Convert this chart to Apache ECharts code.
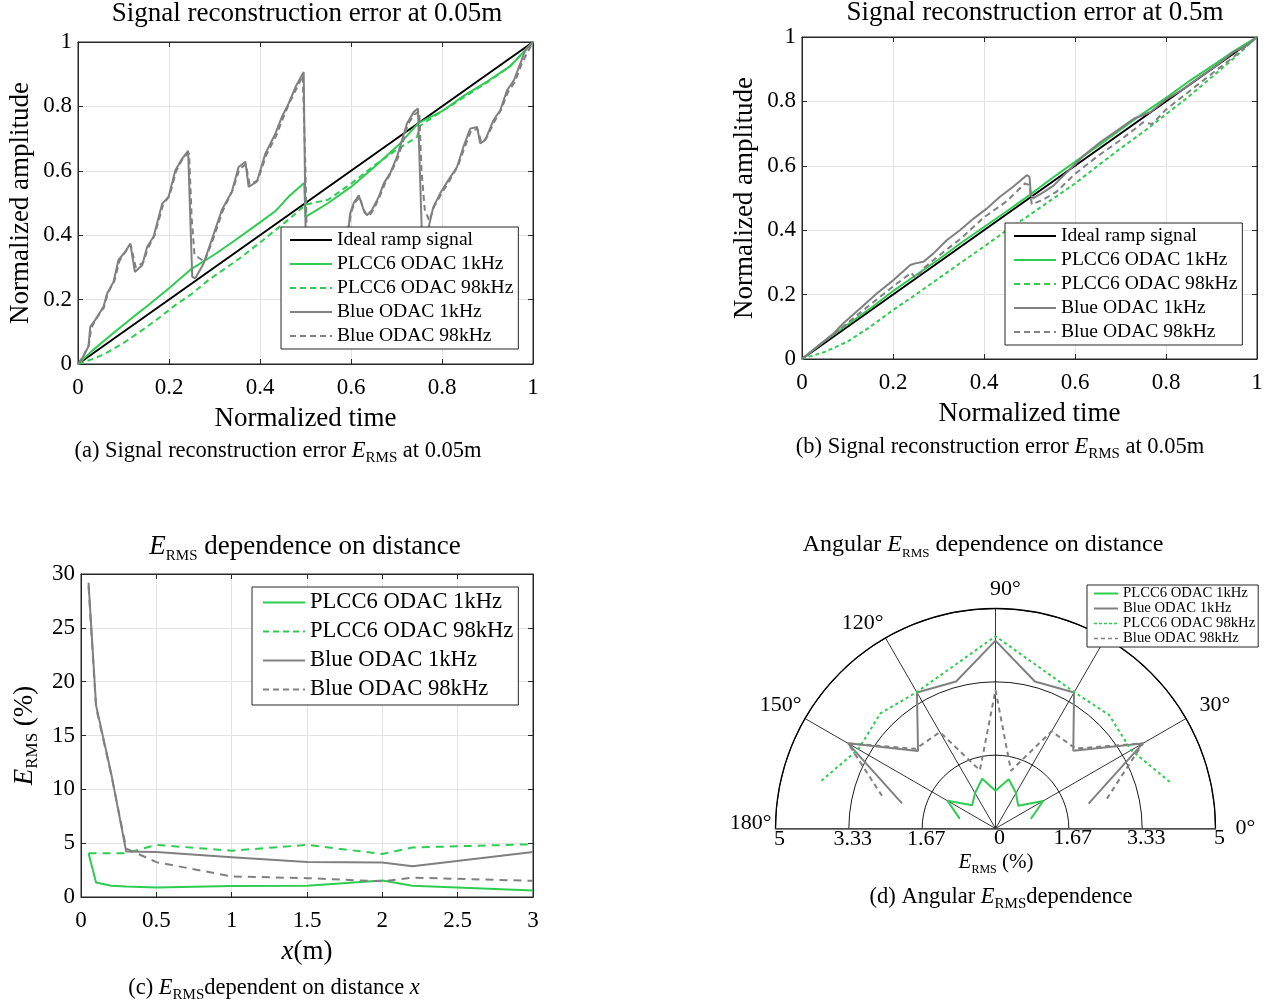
<!DOCTYPE html>
<html><head><meta charset="utf-8">
<script src="https://cdn.jsdelivr.net/npm/echarts@6/dist/echarts.min.js"></script>
<style>html,body{margin:0;padding:0;background:#fff}#c{width:1272px;height:1007px}</style>
</head><body><div id="c"></div>
<script>
// ---------- Panel (a): ramp at 0.05 m, [normalized time, normalized amplitude]
const aIdeal = [[0,0],[1,1]];
const aPlcc1k = [[0,0],[0.03,0.04],[0.06,0.075],[0.09,0.11],[0.122,0.147],[0.155,0.183],[0.2,0.235],[0.247,0.293],[0.3,0.34],[0.346,0.385],[0.4,0.44],[0.434,0.475],[0.463,0.52],[0.497,0.562],[0.5,0.457],[0.55,0.5],[0.6,0.55],[0.65,0.61],[0.708,0.685],[0.748,0.748],[0.8,0.785],[0.85,0.835],[0.9,0.878],[0.95,0.925],[1,1]];
const aPlcc98k = [[0,0],[0.038,0.018],[0.067,0.038],[0.104,0.069],[0.141,0.105],[0.177,0.142],[0.214,0.183],[0.251,0.219],[0.287,0.261],[0.324,0.297],[0.36,0.333],[0.397,0.374],[0.434,0.416],[0.47,0.457],[0.5,0.495],[0.55,0.51],[0.6,0.56],[0.65,0.615],[0.7,0.665],[0.745,0.705],[0.752,0.74],[0.8,0.785],[0.85,0.83],[0.9,0.875],[0.95,0.925],[1,1]];
const aBlue1k = [[0,0],[0.01,0.02],[0.023,0.054],[0.027,0.116],[0.038,0.137],[0.056,0.178],[0.064,0.219],[0.078,0.255],[0.089,0.323],[0.104,0.349],[0.115,0.374],[0.125,0.286],[0.141,0.307],[0.152,0.364],[0.166,0.395],[0.185,0.498],[0.199,0.519],[0.214,0.602],[0.229,0.638],[0.242,0.662],[0.251,0.271],[0.258,0.266],[0.276,0.312],[0.295,0.39],[0.316,0.478],[0.338,0.535],[0.353,0.612],[0.368,0.628],[0.375,0.55],[0.393,0.566],[0.412,0.654],[0.434,0.716],[0.448,0.767],[0.463,0.809],[0.478,0.86],[0.496,0.907],[0.502,0.2],[0.53,0.28],[0.56,0.35],[0.595,0.426],[0.598,0.467],[0.606,0.5],[0.617,0.524],[0.628,0.478],[0.635,0.462],[0.646,0.478],[0.661,0.519],[0.672,0.561],[0.686,0.592],[0.701,0.643],[0.712,0.695],[0.723,0.747],[0.738,0.783],[0.747,0.793],[0.757,0.35],[0.765,0.38],[0.771,0.426],[0.781,0.488],[0.796,0.53],[0.814,0.571],[0.833,0.612],[0.847,0.674],[0.862,0.731],[0.877,0.736],[0.884,0.685],[0.895,0.695],[0.913,0.757],[0.928,0.788],[0.943,0.85],[0.958,0.881],[0.972,0.933],[0.983,0.974],[1,1]];
const aBlue98k = [[0,0],[0.012,0.025],[0.024,0.06],[0.029,0.112],[0.04,0.14],[0.057,0.176],[0.066,0.222],[0.08,0.258],[0.091,0.32],[0.106,0.352],[0.116,0.37],[0.127,0.3],[0.143,0.315],[0.154,0.36],[0.168,0.398],[0.187,0.495],[0.201,0.522],[0.216,0.6],[0.231,0.64],[0.244,0.655],[0.25,0.45],[0.256,0.34],[0.265,0.33],[0.278,0.318],[0.297,0.388],[0.318,0.475],[0.34,0.54],[0.355,0.606],[0.369,0.62],[0.377,0.558],[0.395,0.57],[0.414,0.65],[0.436,0.71],[0.45,0.762],[0.465,0.812],[0.48,0.855],[0.494,0.895],[0.5,0.6],[0.505,0.22],[0.53,0.29],[0.56,0.36],[0.596,0.43],[0.6,0.47],[0.608,0.5],[0.619,0.518],[0.63,0.47],[0.64,0.46],[0.65,0.48],[0.663,0.52],[0.674,0.558],[0.688,0.595],[0.703,0.64],[0.714,0.69],[0.725,0.745],[0.74,0.775],[0.75,0.785],[0.755,0.6],[0.762,0.48],[0.772,0.445],[0.783,0.49],[0.798,0.527],[0.816,0.568],[0.835,0.615],[0.849,0.67],[0.864,0.725],[0.878,0.73],[0.886,0.69],[0.897,0.7],[0.915,0.752],[0.93,0.79],[0.945,0.845],[0.96,0.875],[0.974,0.928],[0.985,0.96],[1,1]];

// ---------- Panel (b): ramp at 0.5 m
const bIdeal = [[0,0],[1,1]];
const bPlcc1k = [[0,0],[0.05,0.056],[0.1,0.107],[0.15,0.157],[0.2,0.211],[0.25,0.26],[0.3,0.309],[0.35,0.361],[0.4,0.41],[0.45,0.459],[0.5,0.509],[0.55,0.562],[0.6,0.612],[0.65,0.661],[0.7,0.712],[0.75,0.763],[0.8,0.811],[0.85,0.862],[0.9,0.909],[0.95,0.957],[1,1]];
const bPlcc98k = [[0,0],[0.05,0.022],[0.1,0.054],[0.15,0.1],[0.2,0.152],[0.25,0.2],[0.3,0.25],[0.35,0.3],[0.4,0.349],[0.45,0.4],[0.5,0.447],[0.55,0.496],[0.6,0.545],[0.65,0.6],[0.7,0.654],[0.75,0.705],[0.8,0.76],[0.85,0.815],[0.9,0.875],[0.95,0.935],[1,1]];
const bBlue1k = [[0,0],[0.03,0.035],[0.07,0.08],[0.091,0.111],[0.132,0.162],[0.165,0.204],[0.201,0.245],[0.238,0.292],[0.249,0.297],[0.267,0.302],[0.289,0.328],[0.318,0.369],[0.347,0.4],[0.377,0.436],[0.406,0.467],[0.435,0.504],[0.464,0.535],[0.494,0.571],[0.5,0.566],[0.503,0.51],[0.508,0.499],[0.532,0.519],[0.554,0.54],[0.583,0.581],[0.62,0.633],[0.656,0.674],[0.693,0.71],[0.729,0.746],[0.766,0.767],[0.802,0.808],[0.839,0.839],[0.875,0.876],[0.912,0.912],[0.948,0.953],[0.978,0.974],[1,1]];
const bBlue98k = [[0,0],[0.04,0.045],[0.08,0.088],[0.12,0.135],[0.16,0.18],[0.2,0.225],[0.24,0.268],[0.25,0.25],[0.27,0.285],[0.3,0.32],[0.35,0.375],[0.4,0.44],[0.45,0.49],[0.49,0.545],[0.5,0.54],[0.505,0.48],[0.53,0.495],[0.56,0.52],[0.6,0.575],[0.65,0.63],[0.7,0.68],[0.75,0.735],[0.77,0.73],[0.8,0.775],[0.85,0.83],[0.9,0.885],[0.95,0.94],[1,1]];

// ---------- Panel (c): E_RMS (%) vs distance x (m)
const cX = [0.05, 0.1, 0.2, 0.3, 0.5, 1.0, 1.5, 2.0, 2.2, 3.0];
const cPlcc1k  = [4.07, 1.35, 1.05, 0.98, 0.89, 1.02, 1.05, 1.54, 1.05, 0.61];
const cPlcc98k = [4.07, 4.07, 4.07, 4.07, 4.84, 4.3, 4.84, 4.0, 4.6, 4.9];
const cBlue1k  = [29.2, 17.8, 11.5, 4.22, 4.17, 3.7, 3.24, 3.2, 2.85, 4.17];
const cBlue98k = [28.9, 17.6, 11.4, 4.5, 3.24, 1.91, 1.75, 1.45, 1.8, 1.5];

// ---------- Panel (d): angular E_RMS (%)
const dAngles   = [15, 30, 45, 60, 75, 90, 105, 120, 135, 150, 165];
const dPlcc1k   = [0.83, 1.25, 0.73, 0.93, 1.16, 0.86, 1.17, 0.93, 0.75, 1.26, 0.84];
const dBlue1k   = [2.19, 3.86, 2.50, 3.57, 3.46, 4.27, 3.46, 3.57, 2.49, 3.87, 2.20];
const dPlcc98k  = [4.10, 3.56, 3.65, 3.58, 3.80, 4.37, 3.80, 3.58, 3.70, 3.60, 4.12];
const dBlue98k  = [2.62, 3.87, 2.57, 2.55, 1.36, 3.15, 1.37, 2.53, 2.56, 3.87, 2.63];

const F = '"Liberation Serif","Times New Roman",serif';
const GREEN = '#2fcc52', GRAY = '#808080', BLACK = '#000', AX = '#262626';
const N = ['Ideal ramp signal','PLCC6 ODAC 1kHz','PLCC6 ODAC 98kHz','Blue ODAC 1kHz','Blue ODAC 98kHz'];

const chart = echarts.init(document.getElementById('c'), null, {renderer:'canvas'});

function zipC(ys){ return cX.map((x,i)=>[x, ys[i]]); }
function zipD(rs){ return dAngles.map((a,i)=>[rs[i], a]); }

function ls(name, data, idx, color, type, width){
  return {type:'line', name, data, xAxisIndex:idx, yAxisIndex:idx, symbol:'none', animation:false,
    lineStyle:{color, width, type}, itemStyle:{color}};
}
function ps(name, data, color, type, width){
  return {type:'line', name, data, coordinateSystem:'polar', polarIndex:0, symbol:'none', animation:false,
    lineStyle:{color, width, type}, itemStyle:{color}};
}
const xLabel = {fontFamily:F, fontSize:23, color:'#000', margin:12};
const yLabel = {fontFamily:F, fontSize:23, color:'#000', margin:6};
const gridSplit = {show:true, lineStyle:{color:'#e3e3e3', width:1}};
function mainX(g, min, max, interval, name, gap, extra){
  return Object.assign({gridIndex:g, type:'value', min, max, interval, position:'bottom',
    axisLine:{show:true, onZero:false, lineStyle:{color:AX, width:1}},
    axisTick:{show:true, inside:true, length:5, lineStyle:{color:AX}},
    axisLabel:xLabel, splitLine:gridSplit,
    name, nameLocation:'middle', nameGap:gap, nameTextStyle:{fontFamily:F, fontSize:27, color:'#000'}}, extra||{});
}
function mainY(g, min, max, interval, name, gap, extra){
  return Object.assign({gridIndex:g, type:'value', min, max, interval, position:'left',
    axisLine:{show:true, onZero:false, lineStyle:{color:AX, width:1}},
    axisTick:{show:true, inside:true, length:5, lineStyle:{color:AX}},
    axisLabel:yLabel, splitLine:gridSplit,
    name, nameLocation:'middle', nameGap:gap, nameTextStyle:{fontFamily:F, fontSize:27, color:'#000'}}, extra||{});
}
function mirror(g, min, max, interval, pos){
  return {gridIndex:g, type:'value', min, max, interval, position:pos,
    axisLine:{show:true, onZero:false, lineStyle:{color:AX, width:1}},
    axisTick:{show:true, inside:true, length:5, lineStyle:{color:AX}},
    axisLabel:{show:false}, splitLine:{show:false}};
}
const legendBase = {orient:'vertical', backgroundColor:'#fff', borderColor:AX, borderWidth:1,
  borderRadius:0, selectedMode:false, itemStyle:{opacity:0}, z:20};

const subRich = (size, sub) => ({
  i:{fontFamily:F, fontSize:size, fontStyle:'italic', color:'#000'},
  s:{fontFamily:F, fontSize:sub, color:'#000', verticalAlign:'bottom', lineHeight:sub}
});
function gtext(x, y, text, size, sub, extra){
  return {type:'text', x, y, z:30, style:Object.assign({text, fontFamily:F, fontSize:size, fill:'#000',
    align:'center', verticalAlign:'middle', lineHeight:size+6, rich:subRich(size, sub)}, extra||{})};
}
const rFmt = v => String(Math.round(v*100)/100);
// angle tick label styling (MATLAB places these slightly to the right)
const angRich = {};
[0,30,60,90,120,150,180].forEach(a => {
  const pad = {0:[0,0,0,16], 30:[0,0,0,10], 60:[0,0,0,8], 90:[0,0,4,20], 120:[0,0,0,0], 150:[0,0,0,0], 180:[0,0,10,0]}[a];
  angRich['a'+a] = {fontFamily:F, fontSize:22, color:'#000', padding:pad};
});

const option = {
  backgroundColor:'#fff',
  animation:false,
  grid:[
    {left:78, top:42, width:455, height:322, show:true, borderColor:AX, borderWidth:1},
    {left:802, top:37, width:455, height:322, show:true, borderColor:AX, borderWidth:1},
    {left:81, top:574, width:452, height:323, show:true, borderColor:AX, borderWidth:1}
  ],
  xAxis:[
    mainX(0,0,1,0.2,'Normalized time',41),
    mirror(0,0,1,0.2,'top'),
    mainX(1,0,1,0.2,'Normalized time',41),
    mirror(1,0,1,0.2,'top'),
    mainX(2,0,3,0.5,'{i|x}(m)',41,{nameTextStyle:{fontFamily:F, fontSize:27, color:'#000', rich:{i:{fontFamily:F,fontSize:27,fontStyle:'italic'}}}}),
    mirror(2,0,3,0.5,'top')
  ],
  yAxis:[
    mainY(0,0,1,0.2,'Normalized amplitude',44),
    mirror(0,0,1,0.2,'right'),
    mainY(1,0,1,0.2,'Normalized amplitude',44),
    mirror(1,0,1,0.2,'right'),
    mainY(2,0,30,5,'{i|E}{s|RMS} (%)',40,{nameTextStyle:{fontFamily:F, fontSize:27, color:'#000', lineHeight:32, rich:subRich(27,17)}}),
    mirror(2,0,30,5,'right')
  ],
  polar:[
    {center:[995.5,828.5], radius:220},
    {center:[995.5,828.5], radius:220}
  ],
  angleAxis:[
    {polarIndex:0, type:'value', min:0, max:180, interval:30, startAngle:0, endAngle:180, clockwise:false,
     axisLine:{show:true, lineStyle:{color:'#000', width:1.3}},
     axisTick:{show:false},
     splitLine:{show:true, lineStyle:{color:'#000', width:0.8}},
     axisLabel:{formatter:v=>'{a'+v+'|'+v+'°}', rich:angRich, fontFamily:F, fontSize:22, color:'#000', margin:4}},
    {polarIndex:1, type:'value', min:0, max:180, interval:30, startAngle:180, endAngle:0, clockwise:true,
     axisLine:{show:false}, axisTick:{show:false}, splitLine:{show:false}, axisLabel:{show:false}}
  ],
  radiusAxis:[
    {polarIndex:0, type:'value', min:0, max:5, interval:5/3,
     axisLine:{show:true, lineStyle:{color:'#555', width:1.5}}, axisTick:{show:false},
     splitLine:{show:true, lineStyle:{color:'#000', width:0.9}},
     axisLabel:{formatter:rFmt, fontFamily:F, fontSize:22, color:'#000', margin:-21, padding:[0,0,0,8]}},
    {polarIndex:1, type:'value', min:0, max:5, interval:5/3,
     axisLine:{show:true, lineStyle:{color:'#555', width:1.5}}, axisTick:{show:false},
     splitLine:{show:false},
     axisLabel:{formatter:v=>(v===0?'':rFmt(v)), fontFamily:F, fontSize:22, color:'#000', margin:0, padding:[0,0,0,8]}}
  ],
  legend:[
    Object.assign({}, legendBase, {data:N, left:281, top:227, itemWidth:42, itemHeight:14, itemGap:4,
      padding:[3,5,3,8], textStyle:{fontFamily:F, fontSize:19.6, color:'#000', lineHeight:20}}),
    Object.assign({}, legendBase, {data:N, left:1005, top:223, itemWidth:42, itemHeight:14, itemGap:4,
      padding:[3,5,3,8], textStyle:{fontFamily:F, fontSize:19.6, color:'#000', lineHeight:20}}),
    Object.assign({}, legendBase, {data:N.slice(1), left:252, top:587, itemWidth:42, itemHeight:14, itemGap:6,
      padding:[4,5,4,10], textStyle:{fontFamily:F, fontSize:22.6, color:'#000', lineHeight:23}}),
    Object.assign({}, legendBase, {left:1087, top:585, itemWidth:24, itemHeight:10, itemGap:0,
      padding:[1,3,1,6], textStyle:{fontFamily:F, fontSize:14.7, color:'#000', lineHeight:14},
      data:[{name:'PLCC6 ODAC 1kHz'},{name:'Blue ODAC 1kHz'},
            {name:'PLCC6 ODAC 98kHz', lineStyle:{type:[3,2], width:1.5}},
            {name:'Blue ODAC 98kHz', lineStyle:{type:[4,3], width:1.5}}]})
  ],
  series:[
    ls(N[0], aIdeal, 0, BLACK, 'solid', 2),
    ls(N[1], aPlcc1k, 0, GREEN, 'solid', 2),
    ls(N[2], aPlcc98k, 0, GREEN, [6,4], 2),
    ls(N[3], aBlue1k, 0, GRAY, 'solid', 2),
    ls(N[4], aBlue98k, 0, GRAY, [6,4], 2),

    ls(N[0], bIdeal, 2, BLACK, 'solid', 2),
    ls(N[1], bPlcc1k, 2, GREEN, 'solid', 2),
    ls(N[2], bPlcc98k, 2, GREEN, [4,3], 2),
    ls(N[3], bBlue1k, 2, GRAY, 'solid', 2),
    ls(N[4], bBlue98k, 2, GRAY, [6,4], 2),

    ls(N[1], zipC(cPlcc1k), 4, GREEN, 'solid', 2),
    ls(N[2], zipC(cPlcc98k), 4, GREEN, [8,6], 2),
    ls(N[3], zipC(cBlue1k), 4, GRAY, 'solid', 2),
    ls(N[4], zipC(cBlue98k), 4, GRAY, [8,6], 2),

    ps(N[1], zipD(dPlcc1k), GREEN, 'solid', 2),
    ps(N[3], zipD(dBlue1k), GRAY, 'solid', 2),
    ps(N[2], zipD(dPlcc98k), GREEN, [3,3], 2),
    ps(N[4], zipD(dBlue98k), GRAY, [5,4], 2)
  ],
  graphic:[
    gtext(307, 14, 'Signal reconstruction error at 0.05m', 27, 16),
    gtext(1035, 13, 'Signal reconstruction error at 0.5m', 27, 16),
    gtext(305, 547, '{i|E}{s|RMS} dependence on distance', 27, 15),
    gtext(983, 545, 'Angular {i|E}{s|RMS} dependence on distance', 24, 13),
    gtext(278, 451, '(a) Signal reconstruction error {i|E}{s|RMS} at 0.05m', 22.5, 15),
    gtext(1000, 447, '(b) Signal reconstruction error {i|E}{s|RMS} at 0.05m', 22.5, 15),
    gtext(274, 988, '(c) {i|E}{s|RMS}dependent on distance {i|x}', 22.5, 15),
    gtext(1001, 897, '(d) Angular {i|E}{s|RMS}dependence', 22.5, 15),
    gtext(996, 862, '{i|E}{s|RMS} (%)', 21, 12)
  ]
};
chart.setOption(option);
</script></body></html>
